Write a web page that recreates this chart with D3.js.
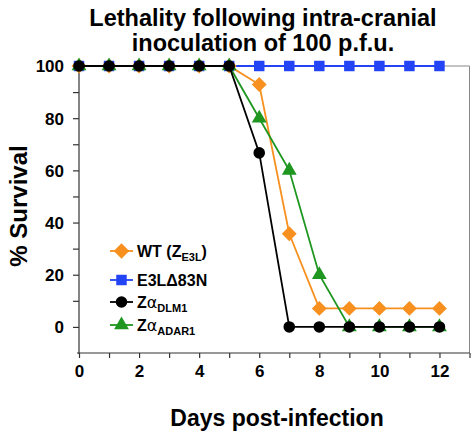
<!DOCTYPE html>
<html><head><meta charset="utf-8">
<script src="https://cdn.jsdelivr.net/npm/d3@7"></script>
<style>body{margin:0;background:#fff}svg{display:block;font-family:"Liberation Sans",Arial,sans-serif}</style>
</head><body><svg id="c" width="475" height="438"></svg>
<script>
const days = [0,1,2,3,4,5,6,7,8,9,10,11,12];
const wt    = [100,100,100,100,100,100,92.9,35.7,7.1,7.1,7.1,7.1,7.1];
const e3l   = [100,100,100,100,100,100,100,100,100,100,100,100,100];
const dlm1  = [100,100,100,100,100,100,66.7,0,0,0,0,0,0];
const adar1 = [100,100,100,100,100,100,80,60,20,0,0,0,0];
const xTickLabels = [0,2,4,6,8,10,12];
const yTickLabels = [0,20,40,60,80,100];

const svg = d3.select("#c");
const x = d3.scaleLinear().domain([0,13]).range([79,469.5]);
const y = d3.scaleLinear().domain([-10,100]).range([353,66]);

const squareDiamond = {draw(ctx,size){const r=Math.sqrt(size/2);ctx.moveTo(0,-r);ctx.lineTo(r,0);ctx.lineTo(0,r);ctx.lineTo(-r,0);ctx.closePath();}};

// frame
svg.append("path").attr("d",`M${x(0)},${y(100)}H${x(13)}V${y(-10)}`)
  .attr("fill","none").attr("stroke","#888").attr("stroke-width",1);
const ya = svg.append("g").attr("transform",`translate(${x(0)},0)`)
  .call(d3.axisLeft(y).tickValues(d3.range(-10,101,10)).tickSize(6).tickFormat(d=>yTickLabels.includes(d)?d:""));
const xa = svg.append("g").attr("transform",`translate(0,${y(-10)})`)
  .call(d3.axisBottom(x).tickValues(d3.range(0,14,1)).tickSize(5).tickFormat(d=>xTickLabels.includes(d)?d:""));
[ya,xa].forEach(a=>{
  a.select(".domain").attr("stroke","#333").attr("stroke-width",1.2);
  a.selectAll(".tick line").attr("stroke","#333").attr("stroke-width",1.2);
  a.selectAll(".tick text").attr("font-size",17).attr("font-weight","bold").attr("fill","#000")
   .attr("font-family","Liberation Sans,Arial,sans-serif");
});
ya.select(".domain").attr("d",`M0,${y(-10)+1}V${y(100)}`);
xa.select(".domain").attr("d",`M${x(0)-2},0H${x(13)}`);
ya.selectAll(".tick text").attr("x",-15).attr("dy","0.35em");
ya.selectAll(".tick").filter(d=>d===-10).remove();
xa.selectAll(".tick text").attr("y",12);

const series = [
  {vals:e3l, color:"#2244F5", shape:d3.symbolSquare, size:110},
  {vals:wt, color:"#F7901E", shape:squareDiamond, size:110},
  {vals:adar1, color:"#1E9620", shape:d3.symbolTriangle, size:95},
  {vals:dlm1, color:"#000000", shape:d3.symbolCircle, size:105},
];
const line = d3.line().x((d,i)=>x(days[i])).y(d=>y(d));
series.forEach(s=>{
  svg.append("path").attr("d",line(s.vals)).attr("fill","none").attr("stroke",s.color).attr("stroke-width",1.8);
  svg.append("g").selectAll("path").data(s.vals).join("path")
    .attr("transform",(d,i)=>`translate(${x(days[i])},${y(d)})`)
    .attr("d",d3.symbol().type(s.shape).size(s.size)).attr("fill",s.color);
});

const leg = [
  {color:"#F7901E", shape:squareDiamond, size:120, main:"WT (Z", sub:"E3L", tail:")"},
  {color:"#2244F5", shape:d3.symbolSquare, size:110, main:"E3L\u039483N", sub:"", tail:""},
  {color:"#000000", shape:d3.symbolCircle, size:105, main:"Z\u03b1", sub:"DLM1", tail:""},
  {color:"#1E9620", shape:d3.symbolTriangle, size:95, main:"Z\u03b1", sub:"ADAR1", tail:""},
];
const legY = [251,280,302,325];
leg.forEach((l,i)=>{
  const g = svg.append("g").attr("transform",`translate(0,${legY[i]})`);
  g.append("line").attr("x1",110).attr("x2",133).attr("stroke",l.color).attr("stroke-width",1.8);
  g.append("path").attr("transform","translate(121.5,0)").attr("d",d3.symbol().type(l.shape).size(l.size)).attr("fill",l.color);
  const t = g.append("text").attr("x",137).attr("y",6).attr("font-size",16).attr("font-weight","bold");
  if(l.main.includes("\u03b1")){
    t.append("tspan").text("Z");
    t.append("tspan").attr("font-weight","normal").attr("font-family","DejaVu Sans").text("\u03b1");
  } else t.append("tspan").text(l.main);
  if(l.sub) t.append("tspan").attr("font-size",11).attr("dy",4).text(l.sub);
  if(l.tail) t.append("tspan").attr("dy",-4).text(l.tail);
});

svg.append("text").attr("x",263).attr("y",26).attr("text-anchor","middle").attr("font-size",23.5).attr("font-weight","bold").text("Lethality following intra-cranial");
svg.append("text").attr("x",263).attr("y",51).attr("text-anchor","middle").attr("font-size",23.5).attr("font-weight","bold").text("inoculation of 100 p.f.u.");
svg.append("text").attr("transform","translate(27,206) rotate(-90)").attr("text-anchor","middle").attr("font-size",24).attr("font-weight","bold").text("% Survival");
svg.append("text").attr("x",277).attr("y",426).attr("text-anchor","middle").attr("font-size",23).attr("font-weight","bold").text("Days post-infection");
</script></body></html>
